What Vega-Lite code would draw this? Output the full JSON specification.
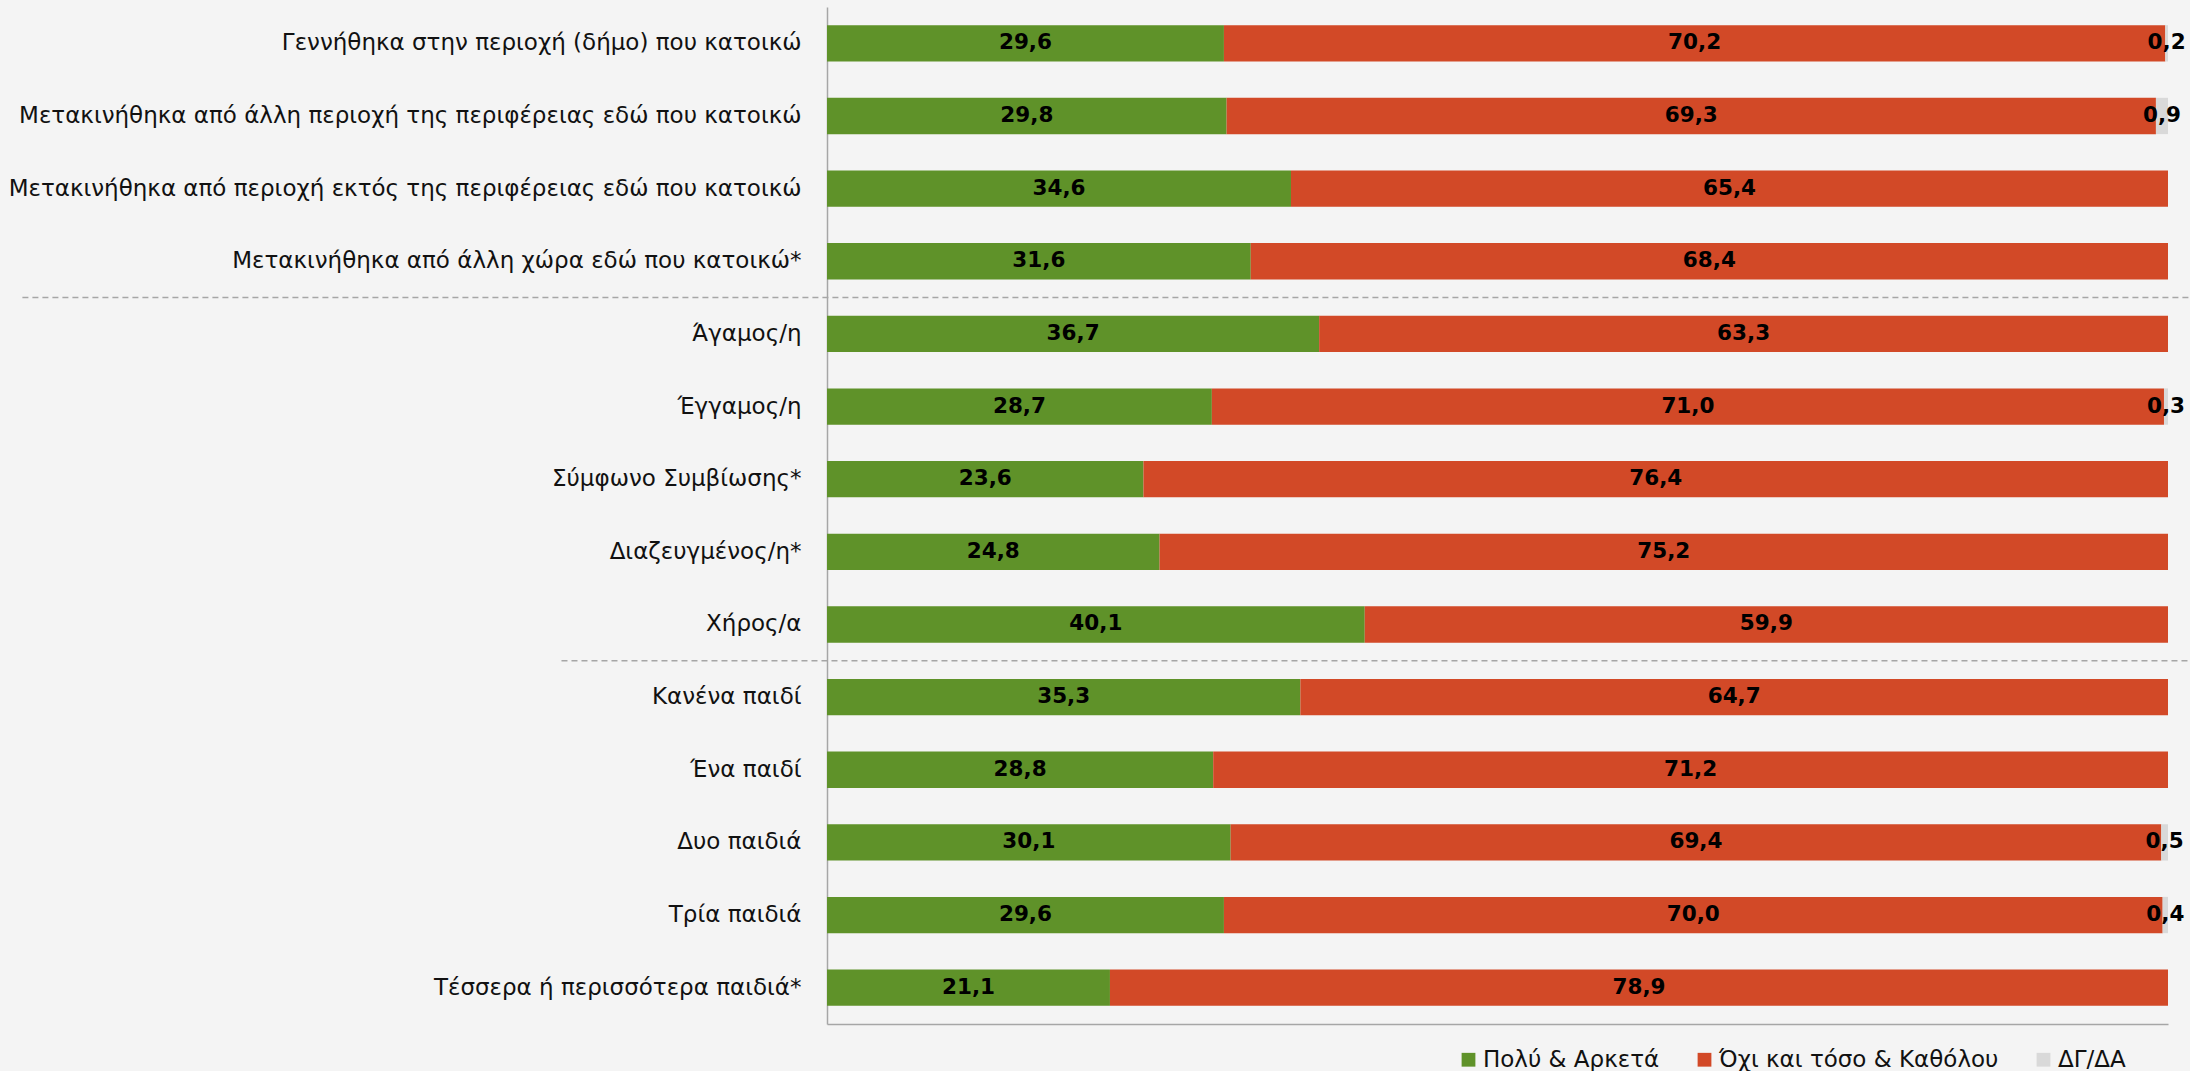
{
  "$schema": "https://vega.github.io/schema/vega-lite/v6.json",
  "autosize": {"type": "none"},
  "padding": {"left": 827, "top": 7, "right": 22, "bottom": 47},
  "width": 1341,
  "height": 1017,
  "background": "#F4F4F4",
  "config": {
    "view": {"stroke": null},
    "locale": {"number": {"decimal": ",", "thousands": ".", "grouping": [3], "currency": ["", " €"]}},
    "font": "DejaVu Sans"
  },
  "data": {"values": [
    {"i": 1, "cat": "Γεννήθηκα στην περιοχή (δήμο) που κατοικώ", "resp": "Πολύ & Αρκετά", "o": 1, "value": 29.6},
    {"i": 1, "cat": "Γεννήθηκα στην περιοχή (δήμο) που κατοικώ", "resp": "Όχι και τόσο & Καθόλου", "o": 2, "value": 70.2},
    {"i": 1, "cat": "Γεννήθηκα στην περιοχή (δήμο) που κατοικώ", "resp": "ΔΓ/ΔΑ", "o": 3, "value": 0.2},
    {"i": 2, "cat": "Μετακινήθηκα από άλλη περιοχή της περιφέρειας εδώ που κατοικώ", "resp": "Πολύ & Αρκετά", "o": 1, "value": 29.8},
    {"i": 2, "cat": "Μετακινήθηκα από άλλη περιοχή της περιφέρειας εδώ που κατοικώ", "resp": "Όχι και τόσο & Καθόλου", "o": 2, "value": 69.3},
    {"i": 2, "cat": "Μετακινήθηκα από άλλη περιοχή της περιφέρειας εδώ που κατοικώ", "resp": "ΔΓ/ΔΑ", "o": 3, "value": 0.9},
    {"i": 3, "cat": "Μετακινήθηκα από περιοχή εκτός της περιφέρειας εδώ που κατοικώ", "resp": "Πολύ & Αρκετά", "o": 1, "value": 34.6},
    {"i": 3, "cat": "Μετακινήθηκα από περιοχή εκτός της περιφέρειας εδώ που κατοικώ", "resp": "Όχι και τόσο & Καθόλου", "o": 2, "value": 65.4},
    {"i": 3, "cat": "Μετακινήθηκα από περιοχή εκτός της περιφέρειας εδώ που κατοικώ", "resp": "ΔΓ/ΔΑ", "o": 3, "value": 0},
    {"i": 4, "cat": "Μετακινήθηκα από άλλη χώρα εδώ που κατοικώ*", "resp": "Πολύ & Αρκετά", "o": 1, "value": 31.6},
    {"i": 4, "cat": "Μετακινήθηκα από άλλη χώρα εδώ που κατοικώ*", "resp": "Όχι και τόσο & Καθόλου", "o": 2, "value": 68.4},
    {"i": 4, "cat": "Μετακινήθηκα από άλλη χώρα εδώ που κατοικώ*", "resp": "ΔΓ/ΔΑ", "o": 3, "value": 0},
    {"i": 5, "cat": "Άγαμος/η", "resp": "Πολύ & Αρκετά", "o": 1, "value": 36.7},
    {"i": 5, "cat": "Άγαμος/η", "resp": "Όχι και τόσο & Καθόλου", "o": 2, "value": 63.3},
    {"i": 5, "cat": "Άγαμος/η", "resp": "ΔΓ/ΔΑ", "o": 3, "value": 0},
    {"i": 6, "cat": "Έγγαμος/η", "resp": "Πολύ & Αρκετά", "o": 1, "value": 28.7},
    {"i": 6, "cat": "Έγγαμος/η", "resp": "Όχι και τόσο & Καθόλου", "o": 2, "value": 71.0},
    {"i": 6, "cat": "Έγγαμος/η", "resp": "ΔΓ/ΔΑ", "o": 3, "value": 0.3},
    {"i": 7, "cat": "Σύμφωνο Συμβίωσης*", "resp": "Πολύ & Αρκετά", "o": 1, "value": 23.6},
    {"i": 7, "cat": "Σύμφωνο Συμβίωσης*", "resp": "Όχι και τόσο & Καθόλου", "o": 2, "value": 76.4},
    {"i": 7, "cat": "Σύμφωνο Συμβίωσης*", "resp": "ΔΓ/ΔΑ", "o": 3, "value": 0},
    {"i": 8, "cat": "Διαζευγμένος/η*", "resp": "Πολύ & Αρκετά", "o": 1, "value": 24.8},
    {"i": 8, "cat": "Διαζευγμένος/η*", "resp": "Όχι και τόσο & Καθόλου", "o": 2, "value": 75.2},
    {"i": 8, "cat": "Διαζευγμένος/η*", "resp": "ΔΓ/ΔΑ", "o": 3, "value": 0},
    {"i": 9, "cat": "Χήρος/α", "resp": "Πολύ & Αρκετά", "o": 1, "value": 40.1},
    {"i": 9, "cat": "Χήρος/α", "resp": "Όχι και τόσο & Καθόλου", "o": 2, "value": 59.9},
    {"i": 9, "cat": "Χήρος/α", "resp": "ΔΓ/ΔΑ", "o": 3, "value": 0},
    {"i": 10, "cat": "Κανένα παιδί", "resp": "Πολύ & Αρκετά", "o": 1, "value": 35.3},
    {"i": 10, "cat": "Κανένα παιδί", "resp": "Όχι και τόσο & Καθόλου", "o": 2, "value": 64.7},
    {"i": 10, "cat": "Κανένα παιδί", "resp": "ΔΓ/ΔΑ", "o": 3, "value": 0},
    {"i": 11, "cat": "Ένα παιδί", "resp": "Πολύ & Αρκετά", "o": 1, "value": 28.8},
    {"i": 11, "cat": "Ένα παιδί", "resp": "Όχι και τόσο & Καθόλου", "o": 2, "value": 71.2},
    {"i": 11, "cat": "Ένα παιδί", "resp": "ΔΓ/ΔΑ", "o": 3, "value": 0},
    {"i": 12, "cat": "Δυο παιδιά", "resp": "Πολύ & Αρκετά", "o": 1, "value": 30.1},
    {"i": 12, "cat": "Δυο παιδιά", "resp": "Όχι και τόσο & Καθόλου", "o": 2, "value": 69.4},
    {"i": 12, "cat": "Δυο παιδιά", "resp": "ΔΓ/ΔΑ", "o": 3, "value": 0.5},
    {"i": 13, "cat": "Τρία παιδιά", "resp": "Πολύ & Αρκετά", "o": 1, "value": 29.6},
    {"i": 13, "cat": "Τρία παιδιά", "resp": "Όχι και τόσο & Καθόλου", "o": 2, "value": 70.0},
    {"i": 13, "cat": "Τρία παιδιά", "resp": "ΔΓ/ΔΑ", "o": 3, "value": 0.4},
    {"i": 14, "cat": "Τέσσερα ή περισσότερα παιδιά*", "resp": "Πολύ & Αρκετά", "o": 1, "value": 21.1},
    {"i": 14, "cat": "Τέσσερα ή περισσότερα παιδιά*", "resp": "Όχι και τόσο & Καθόλου", "o": 2, "value": 78.9},
    {"i": 14, "cat": "Τέσσερα ή περισσότερα παιδιά*", "resp": "ΔΓ/ΔΑ", "o": 3, "value": 0}
  ]},
  "transform": [
    {"stack": "value", "groupby": ["cat"], "sort": [{"field": "o", "order": "ascending"}], "as": ["x0", "x1"]},
    {"calculate": "(datum.x0 + datum.x1) / 2", "as": "mid"}
  ],
  "layer": [
    {
      "mark": {"type": "bar"},
      "encoding": {
        "y": {
          "field": "cat", "type": "nominal", "sort": {"field": "i", "op": "min"},
          "scale": {"paddingInner": 0.5, "paddingOuter": 0.25},
          "axis": {
            "title": null, "ticks": false, "labelPadding": 26, "labelFontSize": 23,
            "labelColor": "#111111", "labelLimit": 900, "domainColor": "#A6A6A6", "domainWidth": 1.5
          }
        },
        "x": {
          "field": "x0", "type": "quantitative", "scale": {"domain": [0, 100], "nice": false},
          "axis": {"title": null, "labels": false, "ticks": false, "grid": false, "domainColor": "#A6A6A6", "domainWidth": 1.5}
        },
        "x2": {"field": "x1"},
        "color": {
          "field": "resp", "type": "nominal",
          "scale": {"domain": ["Πολύ & Αρκετά", "Όχι και τόσο & Καθόλου", "ΔΓ/ΔΑ"], "range": ["#5F9229", "#D24927", "#D9D9D9"]},
          "legend": {
            "title": null, "orient": "none", "direction": "horizontal", "legendX": 630, "legendY": 1041,
            "symbolType": "square", "symbolSize": 190, "symbolStrokeWidth": 0, "labelFontSize": 23,
            "labelColor": "#111111", "labelOffset": 3, "columnPadding": 33, "padding": 0, "labelLimit": 500
          }
        }
      }
    },
    {
      "transform": [{"filter": "datum.value > 0"}],
      "mark": {"type": "text", "fontWeight": "bold", "fontSize": 21.5, "color": "#000000", "align": "center", "baseline": "middle"},
      "encoding": {
        "y": {"field": "cat", "type": "nominal", "sort": {"field": "i", "op": "min"}},
        "x": {"field": "mid", "type": "quantitative"},
        "text": {"field": "value", "type": "quantitative", "format": ".1f"}
      }
    },
    {
      "data": {"values": [{}]},
      "mark": {"type": "rule", "color": "#A6A6A6", "strokeWidth": 1.5, "strokeDash": [6, 4]},
      "encoding": {
        "y": {"datum": "Άγαμος/η", "type": "nominal", "bandPosition": -0.5},
        "x": {"datum": -60},
        "x2": {"datum": 102}
      }
    },
    {
      "data": {"values": [{}]},
      "mark": {"type": "rule", "color": "#A6A6A6", "strokeWidth": 1.5, "strokeDash": [6, 4]},
      "encoding": {
        "y": {"datum": "Κανένα παιδί", "type": "nominal", "bandPosition": -0.5},
        "x": {"datum": -19.8},
        "x2": {"datum": 102}
      }
    }
  ]
}
